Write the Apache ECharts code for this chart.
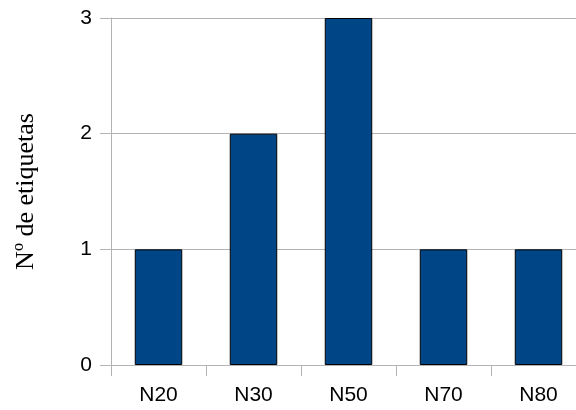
<!DOCTYPE html>
<html>
<head>
<meta charset="utf-8">
<script src="https://cdn.jsdelivr.net/npm/echarts@6/dist/echarts.min.js"></script>
<style>html,body{margin:0;padding:0;background:#fff;overflow:hidden;width:576px;height:410px}#c{width:587px;height:410px}</style>
</head>
<body>
<div id="c"></div>
<script>
const categories = ['N20', 'N30', 'N50', 'N70', 'N80'];
const values = [1, 2, 3, 1, 1];
const yTicks = [0, 1, 2, 3];
const yName = 'Nº de etiquetas';

const chart = echarts.init(document.getElementById('c'), null, {renderer: 'canvas'});
chart.setOption({
  animation: false,
  backgroundColor: '#ffffff',
  grid: {left: 111, top: 18, bottom: 45, right: 1, containLabel: false},
  xAxis: {
    type: 'category',
    data: categories,
    axisLine: {show: true, lineStyle: {color: '#b3b3b3', width: 1}},
    axisTick: {show: true, length: 11, lineStyle: {color: '#b3b3b3'}},
    axisLabel: {color: '#000', fontFamily: 'Liberation Sans', fontSize: 21, margin: 20}
  },
  yAxis: {
    type: 'value',
    min: yTicks[0],
    max: yTicks[yTicks.length - 1],
    interval: 1,
    name: yName,
    nameLocation: 'middle',
    nameGap: 72,
    nameTextStyle: {color: '#000', fontFamily: 'Liberation Serif', fontSize: 26},
    axisLine: {show: true, lineStyle: {color: '#b3b3b3', width: 1}},
    axisTick: {show: true, length: 11, lineStyle: {color: '#b3b3b3'}},
    axisLabel: {color: '#000', fontFamily: 'Liberation Sans', fontSize: 21, margin: 19},
    splitLine: {show: true, lineStyle: {color: '#b3b3b3', width: 1}}
  },
  series: [{
    type: 'bar',
    data: values,
    barWidth: '50%',
    itemStyle: {color: '#004586', borderColor: '#000', borderWidth: 1}
  }]
});
</script>
</body>
</html>
